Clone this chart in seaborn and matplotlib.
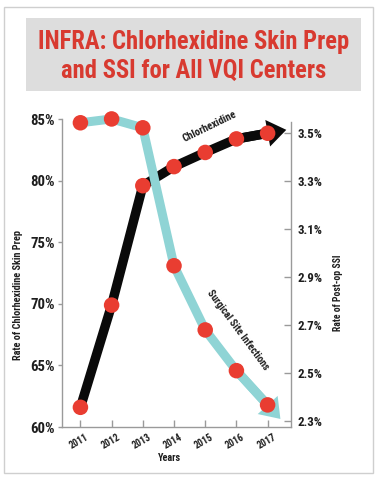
import numpy as np
import matplotlib
matplotlib.use("Agg")
import matplotlib.pyplot as plt
import matplotlib.transforms as mtransforms
import matplotlib.font_manager as fm
from matplotlib.textpath import TextPath
from matplotlib.patches import Rectangle
import seaborn as sns
import pandas as pd

# ---- data ----
years = [2011, 2012, 2013, 2014, 2015, 2016, 2017]
chlorhexidine = [61.6, 69.9, 79.6, 81.15, 82.3, 83.4, 83.86]   # % (left axis)
ssi = [3.544, 3.56, 3.523, 2.947, 2.679, 2.509, 2.366]          # % (right axis)
left_ticks = [60, 65, 70, 75, 80, 85]
right_ticks = [2.3, 2.5, 2.7, 2.9, 3.1, 3.3, 3.5]
title_lines = ["INFRA: Chlorhexidine Skin Prep", "and SSI for All VQI Centers"]

sns.set_theme(style="white")

# ---- pick a bold condensed font if one is installed ----
def find_condensed_bold():
    prefs = ["Liberation Sans Narrow", "Roboto Condensed", "Open Sans Condensed",
             "DejaVu Sans Condensed", "Noto Sans Condensed"]
    ents = fm.fontManager.ttflist
    def isbold(f):
        w = f.weight
        if isinstance(w, str):
            return w in ("bold", "semibold", "demibold", "heavy", "black", "extra bold")
        return w >= 600
    bold = [f for f in ents if isbold(f)]
    for p in prefs:
        for f in bold:
            if f.name == p:
                return f.fname
    for f in bold:
        if f.stretch in ("condensed", "semi-condensed", "extra-condensed") or \
           "Condensed" in f.name or "Narrow" in f.name:
            return f.fname
    return None

fpath = find_condensed_bold()
if fpath:
    BASEFP = fm.FontProperties(fname=fpath)
else:
    BASEFP = fm.FontProperties(family=["Roboto", "DejaVu Sans"], weight="bold")
plt.rcParams["font.family"] = ["Roboto", "DejaVu Sans"]

DPI = 100

def fp_for(text, target_px):
    """font properties whose ink width of `text` is about target_px pixels"""
    p = BASEFP.copy()
    p.set_size(10)
    w_pt = TextPath((0, 0), text, prop=p).get_extents().width
    size = 10 * target_px / (w_pt * DPI / 72)
    q = BASEFP.copy()
    q.set_size(size)
    return q

RED = "#e93d31"
TITLE_RED = "#d83a30"
TEAL = "#8fd4d5"
BLACK = "#0a0a0a"
SPINE = "#9a9a9a"
TXT = "#1e1e1e"

df = pd.DataFrame({"Year": years, "Chlorhexidine": chlorhexidine, "SSI": ssi})

fig = plt.figure(figsize=(3.77, 4.80), dpi=DPI)
fig.patch.set_facecolor("white")

# outer frame and title box
fig.patches.append(Rectangle((0.0106, 0.0146), 0.979, 0.971, transform=fig.transFigure,
                             fill=False, edgecolor="#cfcfcf", linewidth=1.0, zorder=0))
fig.patches.append(Rectangle((0.069, 0.8104), 0.8886, 0.152, transform=fig.transFigure,
                             facecolor="#dddddd", edgecolor="none", zorder=0))
title_fp = fp_for(title_lines[0], 310)
fig.text(0.5146, 0.9115, title_lines[0], color=TITLE_RED, fontproperties=title_fp,
         ha="center", va="center")
fig.text(0.5146, 0.852, title_lines[1], color=TITLE_RED, fontproperties=title_fp,
         ha="center", va="center")

rect = [0.1645, 0.1104, 0.6074, 0.6646]
ax = fig.add_axes(rect)
ax2 = ax.twinx()
ax3 = ax.twinx()

xlim = (2010.41, 2017.75)
for a in (ax, ax2, ax3):
    a.set_xlim(*xlim)
    a.patch.set_visible(False)
ax.set_ylim(60, 85.91)
ax2.set_ylim(2.2737, 3.6057)
ax3.set_ylim(60, 85.91)

LW_BLACK = 6.8
LW_TEAL = 6.5

sns.lineplot(data=df, x="Year", y="Chlorhexidine", ax=ax, color=BLACK, linewidth=LW_BLACK,
             legend=False, zorder=2)
sns.lineplot(data=df, x="Year", y="SSI", ax=ax2, color=TEAL, linewidth=LW_TEAL,
             legend=False, zorder=2)

def add_arrow(a, xs, ys, color, width_pt, L_px=19):
    p1 = a.transData.transform((xs[-2], ys[-2]))
    p2 = a.transData.transform((xs[-1], ys[-1]))
    u = (p2 - p1) / np.hypot(*(p2 - p1))
    off = u * L_px * 72 / fig.dpi
    tip_tr = mtransforms.offset_copy(a.transData, fig=fig, x=off[0], y=off[1], units="points")
    a.annotate("", xy=(xs[-1], ys[-1]), xycoords=tip_tr,
               xytext=(xs[-2], ys[-2]), textcoords="data",
               arrowprops=dict(arrowstyle=f"simple,head_length=0.68,head_width=0.97,tail_width={width_pt/20:.3f}",
                               mutation_scale=20, facecolor=color, edgecolor="none", lw=0,
                               shrinkA=0, shrinkB=0), zorder=2)

add_arrow(ax, years, chlorhexidine, BLACK, LW_BLACK)
add_arrow(ax2, years, ssi, TEAL, LW_TEAL)

sns.scatterplot(data=df, x="Year", y="SSI", ax=ax2, color=RED, s=125, edgecolor="none",
                zorder=4, clip_on=False, legend=False)
sns.scatterplot(data=df, x="Year", y="Chlorhexidine", ax=ax3, color=RED, s=125, edgecolor="none",
                zorder=4, clip_on=False, legend=False)

# series labels
ax.text(2015.15, 84.45, "Chlorhexidine", rotation=26, ha="center", va="center",
        rotation_mode="anchor", fontproperties=fp_for("Chlorhexidine", 58), color=TXT)
ax2.text(2016.04, 2.679, "Surgical Site Infections", rotation=-53.5, ha="center", va="center",
         rotation_mode="anchor", fontproperties=fp_for("Surgical Site Infections", 97), color=TXT)

# spines
for a in (ax, ax2, ax3):
    for s in a.spines.values():
        s.set_visible(False)
ax.spines["left"].set_visible(True)
ax.spines["bottom"].set_visible(True)
ax2.spines["right"].set_visible(True)
for s in (ax.spines["left"], ax.spines["bottom"], ax2.spines["right"]):
    s.set_color(SPINE)
    s.set_linewidth(1.0)
ax.spines["left"].set_bounds(60, 85)
ax2.spines["right"].set_bounds(2.2737, 3.547)

ax3.set_yticks([])
ax3.set_ylabel("")
ax3.set_xlabel("")
ax3.tick_params(axis="y", left=False, right=False, labelleft=False, labelright=False)

tick_fp_l = fp_for("85%", 23)
tick_fp_r = fp_for("3.5%", 24)
tick_fp_x = fp_for("2013", 19)

# left axis ticks
ax.set_yticks(left_ticks)
ax.set_yticklabels([f"{v}%" for v in left_ticks], fontproperties=tick_fp_l)
ax.tick_params(axis="y", direction="out", length=3, width=1, color=SPINE, pad=2,
               labelcolor=TXT, left=True)

# bottom ticks
ax.set_xticks(years)
ax.set_xticklabels([str(y) for y in years], fontproperties=tick_fp_x)
ax.tick_params(axis="x", direction="in", length=5, width=1, color=SPINE, pad=3.5,
               labelcolor=TXT, bottom=True, labelrotation=30)
shift = mtransforms.ScaledTranslation(5 / DPI, 0, fig.dpi_scale_trans)
for lab in ax.get_xticklabels():
    lab.set_rotation(30)
    lab.set_rotation_mode("anchor")
    lab.set_ha("right")
    lab.set_va("top")
    lab.set_transform(lab.get_transform() + shift)

# right axis ticks
ax2.set_yticks(right_ticks)
ax2.set_yticklabels([f"{v:.1f}%" for v in right_ticks], fontproperties=tick_fp_r)
ax2.tick_params(axis="y", direction="in", length=5, width=1, color=SPINE, pad=5,
                labelcolor=TXT, right=True)

# axis titles
ax.set_xlabel("")
ax.set_ylabel("")
ax2.set_ylabel("")
ax.text(0.4716, -0.098, "Years", transform=ax.transAxes, ha="center", va="center",
        fontproperties=fp_for("Years", 23), color=TXT, clip_on=False)
ax.text(-0.192, 0.414, "Rate of Chlorhexidine Skin Prep", transform=ax.transAxes, rotation=90,
        ha="center", va="center", fontproperties=fp_for("Rate of Chlorhexidine Skin Prep", 130),
        color=TXT, clip_on=False)
ax2.text(1.205, 0.42, "Rate of Post-op SSI", transform=ax2.transAxes, rotation=90,
         ha="center", va="center", fontproperties=fp_for("Rate of Post-op SSI", 76),
         color=TXT, clip_on=False)

fig.savefig("out.png", dpi=DPI)
